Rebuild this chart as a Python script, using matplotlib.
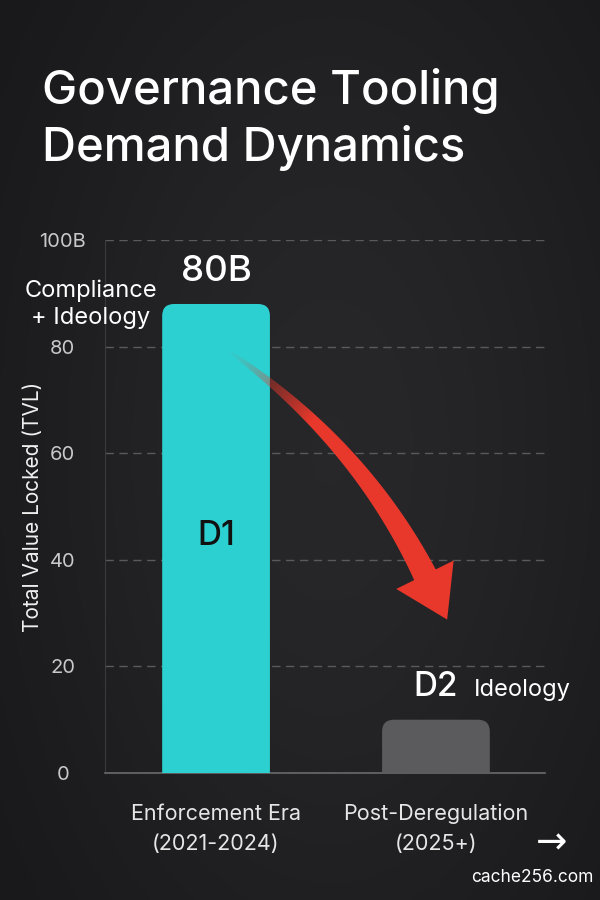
import numpy as np
import matplotlib.pyplot as plt
from matplotlib.patches import FancyBboxPatch, Polygon
from matplotlib.colors import LinearSegmentedColormap

plt.rcParams['font.family'] = ['Inter', 'DejaVu Sans']

# Data
categories = ['Enforcement Era\n(2021-2024)', 'Post-Deregulation\n(2025+)']
values = [88, 10]
bar_tags = ['D1', 'D2']
bar_colors = ['#2dd0d0', '#5b5b5e']
yticks = [0, 20, 40, 60, 80, 100]
ytick_labels = ['0', '20', '40', '60', '80', '100B']

fig = plt.figure(figsize=(6, 9), dpi=100)

# dark background with a soft glow
bg = fig.add_axes([0, 0, 1, 1], zorder=-10)
yy, xx = np.mgrid[0:1:300j, 0:1:200j]
glow = np.exp(-((xx - 0.55) ** 2 / 0.35 + (yy - 0.5) ** 2 / 0.5))
bg.imshow(glow, cmap=LinearSegmentedColormap.from_list('bg', ['#19191b', '#27272a']),
          aspect='auto', extent=[0, 1, 0, 1])
bg.axis('off')

ax = fig.add_axes([0.175, 0.1411, 0.733, 0.5922])
ax.patch.set_alpha(0)
x = np.arange(len(categories))
bars = ax.bar(x, values, width=0.49, color=bar_colors, zorder=3)
ax.set_xlim(-0.505, 1.495)
ax.set_ylim(0, 100)

# pixels per data unit
px_x = 0.733 * 600 / 2.0
px_y = 0.5922 * 900 / 100.0

# rounded bars
r = 12 / px_x
for b in bars:
    b.set_visible(False)
    fb = FancyBboxPatch((b.get_x(), -10), b.get_width(), b.get_height() + 10,
                        boxstyle=f'round,pad=0,rounding_size={r}',
                        mutation_aspect=px_x / px_y,
                        facecolor=b.get_facecolor(), edgecolor='none', zorder=3)
    ax.add_patch(fb)

ax.set_yticks(yticks)
ax.set_yticklabels(ytick_labels, color='#c8c8c8', fontsize=14.5)
ax.set_xticks(x)
ax.set_xticklabels(categories, color='#e6e6e6', fontsize=15.5, linespacing=1.65)
ax.tick_params(axis='both', length=0)
ax.tick_params(axis='x', pad=22)
for lab in ax.get_yticklabels():
    lab.set_horizontalalignment('center')
    lab.set_x(-0.085)
ax.grid(axis='y', color='#5a5a5c', linestyle=(0, (6, 4)), linewidth=1.0, zorder=0)
for s in ['top', 'right']:
    ax.spines[s].set_visible(False)
ax.spines['left'].set_color('#3a3a3c')
ax.spines['bottom'].set_color('#6a6a6c')
ax.spines['bottom'].set_linewidth(1.2)
ax.set_ylabel('Total Value Locked (TVL)', color='#f0f0f0', fontsize=15)
ax.yaxis.set_label_coords(-0.14, 0.5)

# labels
ax.text(x[0], values[0] + 3, '80B', ha='center', va='bottom', color='white',
        fontsize=26.5, fontweight='medium')
ax.text(-0.57, 88, 'Compliance\n+ Ideology', ha='center', va='center', color='white',
        fontsize=17, linespacing=1.3)
ax.text(x[0], 44.5, bar_tags[0], ha='center', va='center', color='#111111',
        fontsize=24, fontweight='medium', zorder=5)
ax.text(x[1], values[1] + 3.2, bar_tags[1], ha='center', va='bottom', color='white',
        fontsize=24, fontweight='medium')
ax.text(1.173, values[1] + 3.6, 'Ideology', ha='left', va='bottom',
        color='white', fontsize=17)

# curved red arrow fading in from the first bar (geometry in pixels, then to data)
def to_px(p):
    return np.array([p[0] * px_x, p[1] * px_y])

def to_data(q):
    return np.column_stack([q[:, 0] / px_x, q[:, 1] / px_y])

p0 = to_px((0.05, 79.4))
p1 = to_px((0.65, 62.2))
p2 = to_px((0.95, 37.2))
t = np.linspace(0, 1, 120)[:, None]
pts = (1 - t) ** 2 * p0 + 2 * (1 - t) * t * p1 + t ** 2 * p2
tan = 2 * (1 - t) * (p1 - p0) + 2 * t * (p2 - p1)
tan = tan / np.linalg.norm(tan, axis=1, keepdims=True)
nrm = np.column_stack([-tan[:, 1], tan[:, 0]])
half = (1 + 11 * t[:, 0] ** 0.8)[:, None]
left = pts + nrm * half
right = pts - nrm * half
d = tan[-1]
n = nrm[-1]
tip = pts[-1] + d * 50
head = np.array([pts[-1] + n * 32, tip, pts[-1] - n * 32])
outline = np.vstack([left, head, right[::-1]])
poly = Polygon(to_data(outline), closed=True, facecolor='none', edgecolor='none')
ax.add_patch(poly)
gx, gy = np.meshgrid(np.linspace(0, 1.2, 300), np.linspace(20, 85, 300))
dist = np.hypot((gx - 0.05) * px_x, (gy - 79.4) * px_y)
rgba = np.zeros(gx.shape + (4,))
rgba[..., 0], rgba[..., 1], rgba[..., 2] = 0.91, 0.22, 0.17
rgba[..., 3] = np.clip(dist / 110, 0, 1) ** 1.3
img = ax.imshow(rgba, extent=[0, 1.2, 20, 85], origin='lower', aspect='auto',
                zorder=4, interpolation='bilinear')
img.set_clip_path(poly)
ax.set_xlim(-0.505, 1.495)
ax.set_ylim(0, 100)

fig.text(0.07, 0.925, 'Governance Tooling\nDemand Dynamics', color='white',
         fontsize=34, fontweight='medium', ha='left', va='top', linespacing=1.32)
fig.text(0.92, 0.063, '\u2192', color='white', fontsize=27, ha='center', va='center',
         family=['DejaVu Sans'])
fig.text(0.99, 0.016, 'cache256.com', color='white', fontsize=12.5, ha='right',
         va='bottom')

fig.savefig('out.png', dpi=100, facecolor='#1c1c1e')
